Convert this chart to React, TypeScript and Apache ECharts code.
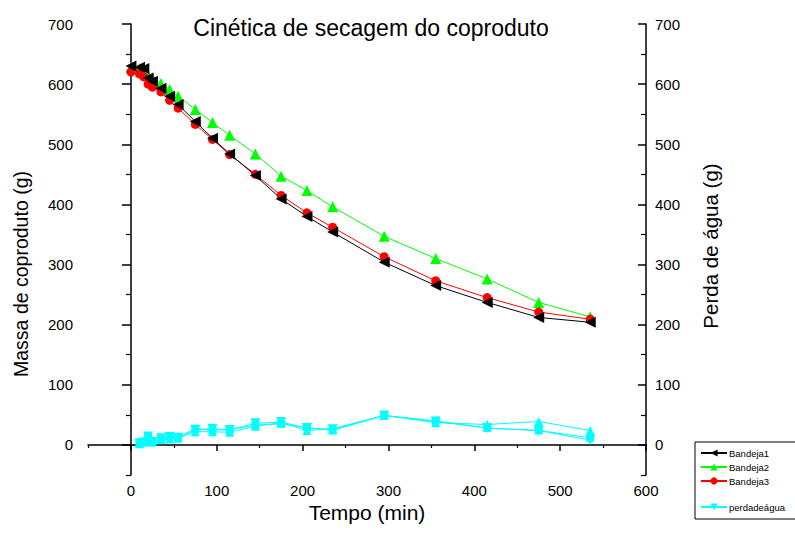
import React, { useEffect, useRef } from "react";
import * as echarts from "echarts";

const times = [0, 10, 15, 20, 25, 35, 45, 55, 75, 95, 115, 145, 175, 205, 235, 295, 355, 415, 475, 535];
const bandeja1 = [630, 628, 626, 610, 605, 593, 580, 566, 538, 510, 484, 448, 409, 380, 354, 304, 265, 237, 212, 204];
const bandeja2 = [628, 626, 620, 615, 610, 601, 591, 580, 558, 536, 515, 484, 447, 423, 396, 347, 310, 276, 237, 213];
const bandeja3 = [620, 617, 612, 600, 595, 587, 573, 560, 533, 508, 483, 450, 415, 386, 362, 313, 273, 245, 221, 209];

const lossTimes = [10, 15, 20, 25, 35, 45, 55, 75, 95, 115, 145, 175, 205, 235, 295, 355, 415, 475, 535];
const perda1 = [3, 4, 14, 5, 11, 13, 12, 25, 27, 25, 36, 38, 28, 26, 49, 39, 28, 24, 8];
const perda2 = [2, 6, 5, 5, 9, 10, 11, 22, 22, 21, 31, 37, 24, 27, 49, 37, 34, 39, 24];
const perda3 = [3, 5, 12, 5, 8, 14, 13, 27, 25, 25, 33, 35, 29, 24, 49, 40, 28, 24, 12];

const xMajor = [0, 100, 200, 300, 400, 500, 600];
const xMinor = [-50, 50, 150, 250, 350, 450, 550];
const yMajor = [0, 100, 200, 300, 400, 500, 600, 700];
const yMinor = [-50, 50, 150, 250, 350, 450, 550, 650];

const FONT = "Arial, 'Liberation Sans', sans-serif";

const zip = (xs: number[], ys: number[]) => xs.map((x, i) => [x, ys[i]]);

export default function App() {
  const ref = useRef<HTMLDivElement>(null);
  useEffect(() => {
    if (!ref.current) return;
    document.body.style.margin = "0";
    const chart = echarts.init(ref.current, null, { renderer: "svg" });
    const axisLine = { show: true, lineStyle: { color: "#000", width: 1.5 } };
    const lbl = { color: "#000", fontSize: 15, fontFamily: FONT };
    const xCommon = { type: "value", min: -50, max: 600, position: "bottom", splitLine: { show: false } };
    const yCommon = { type: "value", min: -50, max: 700, splitLine: { show: false } };
    chart.setOption({
      animation: false,
      backgroundColor: "#fff",
      textStyle: { fontFamily: FONT },
      title: {
        text: "Cinética de secagem do coproduto",
        left: 366,
        textAlign: "center",
        top: 11,
        textStyle: { fontSize: 23, fontWeight: "normal", color: "#000", fontFamily: FONT },
      },
      grid: { left: 88, right: 149, top: 24, bottom: 68, containLabel: false },
      xAxis: [
        {
          ...xCommon,
          axisLine,
          axisTick: { show: true, customValues: xMajor, length: 6, lineStyle: { color: "#000", width: 1.5 } },
          axisLabel: { ...lbl, customValues: xMajor, margin: 8 },
        },
        {
          ...xCommon,
          axisLine: { show: false },
          axisTick: { show: true, customValues: xMinor, length: 3, lineStyle: { color: "#000", width: 1.2 } },
          axisLabel: { show: false },
        },
      ],
      yAxis: [
        {
          ...yCommon,
          position: "left",
          axisLine,
          axisTick: { show: true, customValues: yMajor, length: 9, lineStyle: { color: "#000", width: 1.5 } },
          axisLabel: { ...lbl, customValues: yMajor, margin: 15 },
        },
        {
          ...yCommon,
          position: "left",
          axisLine: { show: false },
          axisTick: { show: true, customValues: yMinor, length: 5, lineStyle: { color: "#000", width: 1.2 } },
          axisLabel: { show: false },
        },
        {
          ...yCommon,
          position: "right",
          axisLine,
          axisTick: { show: true, inside: true, customValues: yMajor, length: 8, lineStyle: { color: "#000", width: 1.5 } },
          axisLabel: { ...lbl, customValues: yMajor, margin: 9 },
        },
        {
          ...yCommon,
          position: "right",
          axisLine: { show: false },
          axisTick: { show: true, inside: true, customValues: yMinor, length: 5, lineStyle: { color: "#000", width: 1.2 } },
          axisLabel: { show: false },
        },
      ],
      legend: [
        {
          orient: "vertical",
          left: 700,
          top: 448,
          itemWidth: 26,
          itemHeight: 9,
          itemGap: 4,
          padding: 0,
          data: ["Bandeja1", "Bandeja2", "Bandeja3"],
          textStyle: { fontSize: 9.5, color: "#000", fontFamily: FONT, padding: [0, 0, 0, -3] },
        },
        {
          orient: "vertical",
          left: 700,
          top: 502,
          itemWidth: 26,
          itemHeight: 9,
          padding: 0,
          data: ["perdadeágua"],
          textStyle: { fontSize: 9.5, color: "#000", fontFamily: FONT, padding: [0, 0, 0, -3] },
        },
      ],
      graphic: [
        {
          type: "rect",
          shape: { x: 695, y: 442, width: 110, height: 77 },
          style: { fill: "none", stroke: "#000", lineWidth: 1 },
          z: 100,
        },
        {
          type: "text",
          x: 21,
          y: 274,
          rotation: Math.PI / 2,
          style: { text: "Massa de coproduto (g)", fontSize: 19.5, fill: "#000", fontFamily: FONT, align: "center", verticalAlign: "middle" },
        },
        {
          type: "text",
          x: 710,
          y: 246,
          rotation: Math.PI / 2,
          style: { text: "Perda de água (g)", fontSize: 20.5, fill: "#000", fontFamily: FONT, align: "center", verticalAlign: "middle" },
        },
        {
          type: "text",
          x: 367,
          y: 512,
          style: { text: "Tempo (min)", fontSize: 21, fill: "#000", fontFamily: FONT, align: "center", verticalAlign: "middle" },
        },
      ],
      series: [
        {
          name: "perdadeágua2",
          type: "line",
          data: zip(lossTimes, perda2),
          symbol: "triangle",
          symbolSize: 9,
          itemStyle: { color: "#00ffff" },
          lineStyle: { color: "#00ffff", width: 1 },
        },
        {
          name: "perdadeágua3",
          type: "line",
          data: zip(lossTimes, perda3),
          symbol: "rect",
          symbolSize: 8,
          itemStyle: { color: "#00ffff" },
          lineStyle: { color: "#00ffff", width: 1 },
        },
        {
          name: "perdadeágua",
          type: "line",
          data: zip(lossTimes, perda1),
          symbol: "triangle",
          symbolRotate: 180,
          symbolSize: 10,
          itemStyle: { color: "#00ffff" },
          lineStyle: { color: "#00ffff", width: 1 },
        },
        {
          name: "Bandeja2",
          type: "line",
          data: zip(times, bandeja2),
          symbol: "triangle",
          symbolSize: 11,
          itemStyle: { color: "#00ff00" },
          lineStyle: { color: "#00ff00", width: 1 },
        },
        {
          name: "Bandeja3",
          type: "line",
          data: zip(times, bandeja3),
          symbol: "circle",
          symbolSize: 9,
          itemStyle: { color: "#ff0000" },
          lineStyle: { color: "#ff0000", width: 1 },
        },
        {
          name: "Bandeja1",
          type: "line",
          data: zip(times, bandeja1),
          symbol: "triangle",
          symbolRotate: 90,
          symbolSize: 11,
          itemStyle: { color: "#000000" },
          lineStyle: { color: "#000000", width: 1 },
        },
      ],
    });
    return () => chart.dispose();
  }, []);
  return <div ref={ref} style={{ width: 795, height: 543 }} />;
}
